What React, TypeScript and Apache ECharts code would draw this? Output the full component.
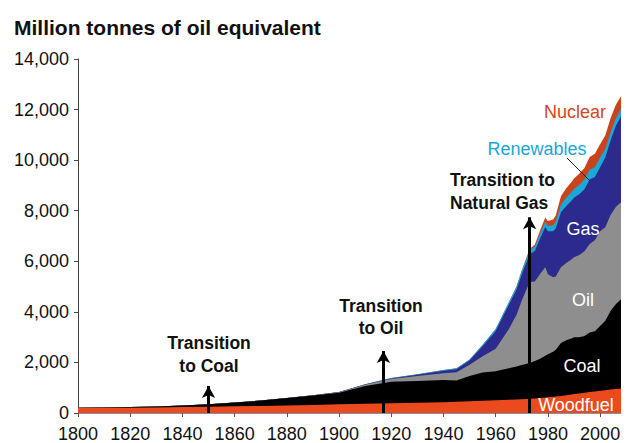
import React, { useEffect, useRef } from "react";
import * as echarts from "echarts";

const years = [1800, 1810, 1820, 1830, 1840, 1850, 1860, 1870, 1880, 1890, 1900, 1910, 1920, 1930, 1940, 1945, 1950, 1955, 1960, 1965, 1968, 1970, 1973, 1975, 1977, 1979, 1980, 1982, 1983, 1985, 1987, 1989, 1990, 1992, 1994, 1996, 1998, 2000, 2002, 2004, 2006, 2008];

const woodfuel = [200, 205, 210, 220, 235, 250, 265, 280, 300, 320, 350, 370, 390, 410, 430, 440, 460, 480, 500, 520, 535, 545, 560, 575, 590, 610, 620, 640, 650, 670, 700, 730, 750, 770, 800, 830, 850, 880, 900, 930, 950, 970];
const coal = [10, 15, 25, 40, 60, 100, 150, 210, 290, 370, 450, 700, 850, 860, 880, 850, 1000, 1120, 1150, 1250, 1300, 1350, 1420, 1480, 1560, 1650, 1700, 1780, 1850, 2100, 2180, 2220, 2250, 2230, 2250, 2350, 2380, 2560, 2750, 3100, 3350, 3530];
const oil = [0, 0, 0, 0, 0, 0, 0, 0, 5, 10, 20, 45, 100, 190, 260, 320, 450, 640, 890, 1540, 2050, 2550, 3200, 3150, 3350, 3500, 3170, 2950, 2900, 2990, 3050, 3120, 3160, 3250, 3350, 3500, 3600, 3750, 3700, 3800, 3850, 3830];
const gas = [0, 0, 0, 0, 0, 0, 0, 0, 0, 5, 10, 15, 25, 50, 100, 120, 170, 400, 700, 960, 1000, 1040, 1110, 1200, 1400, 1600, 1700, 1820, 1900, 2180, 2250, 2320, 2350, 2400, 2450, 2550, 2500, 2530, 2750, 2950, 3200, 3400];
const renewables = [0, 0, 0, 0, 0, 0, 0, 0, 0, 0, 5, 10, 15, 25, 30, 35, 40, 60, 80, 100, 120, 140, 150, 170, 190, 200, 210, 240, 260, 300, 330, 340, 350, 370, 380, 390, 400, 380, 350, 320, 300, 290];
const nuclear = [0, 0, 0, 0, 0, 0, 0, 0, 0, 0, 0, 0, 0, 0, 0, 0, 0, 0, 0, 5, 10, 20, 50, 90, 130, 170, 190, 220, 250, 330, 380, 400, 410, 440, 460, 500, 520, 530, 530, 560, 530, 510];

const xTickYears = [1800, 1820, 1840, 1860, 1880, 1900, 1920, 1940, 1960, 1980, 2000];

// arrows: [year, tip value]
const transitionArrows = [
  [1850, 1070],
  [1917, 2450],
  [1973, 7740],
];

const seriesNames = ["Woodfuel", "Coal", "Oil", "Gas", "Renewables", "Nuclear"];
const seriesValues = [woodfuel, coal, oil, gas, renewables, nuclear];
const seriesColors = ["#ea4a1c", "#000000", "#8e8e8e", "#2d2a8e", "#1aa8d8", "#c9431c"];

const FONT = '"Liberation Sans", Arial, Helvetica, sans-serif';

function txt(text: string, x: number, y: number, fill: string, size: number, weight: string, align: string = "center", lineHeight?: number) {
  return {
    type: "text",
    x,
    y,
    silent: true,
    z: 100,
    style: {
      text,
      fill,
      fontSize: size,
      fontWeight: weight,
      fontFamily: FONT,
      align,
      textAlign: align,
      verticalAlign: "middle",
      textVerticalAlign: "middle",
      lineHeight: lineHeight || size * 1.2,
    },
  };
}

export default function App() {
  const ref = useRef<HTMLDivElement>(null);
  useEffect(() => {
    if (!ref.current) return;
    const chart = echarts.init(ref.current, undefined, { renderer: "svg" });
    // cumulative stacking computed from the component arrays
    const cumulative: number[][] = [];
    seriesValues.forEach((vals, i) => {
      cumulative.push(vals.map((v, k) => v + (i > 0 ? cumulative[i - 1][k] : 0)));
    });
    const series: any[] = [];
    for (let i = seriesNames.length - 1; i >= 0; i--) {
      series.push({
        name: seriesNames[i],
        type: "line",
        symbol: "none",
        smooth: false,
        lineStyle: { width: 0 },
        areaStyle: { color: seriesColors[i], opacity: 1, origin: "start" },
        itemStyle: { color: seriesColors[i] },
        data: years.map((y, k) => [y, cumulative[i][k]]),
        z: 2,
      });
    }
    series.push({
      type: "scatter",
      data: [],
      silent: true,
      z: 10,
      markLine: {
        silent: true,
        symbol: ["none", "arrow"],
        symbolSize: [10, 12],
        label: { show: false },
        lineStyle: { color: "#000", width: 3, type: "solid" },
        emphasis: { disabled: true },
        data: transitionArrows.map(([yr, tip]) => [
          { coord: [yr, 0] },
          { coord: [yr, tip] },
        ]),
      },
    });
    const option: any = {
      animation: false,
      grid: { left: 78, right: 12, top: 59, bottom: 29, containLabel: false },
      xAxis: {
        type: "value",
        min: 1800,
        max: 2008,
        interval: 20,
        axisLine: { show: true, lineStyle: { color: "#7f95a3", width: 1 } },
        axisTick: { show: true, length: 4, lineStyle: { color: "#555" }, customValues: xTickYears },
        axisLabel: {
          customValues: xTickYears,
          color: "#111",
          fontSize: 18,
          fontFamily: FONT,
          margin: 12,
          formatter: (v: number) => String(v),
        },
        splitLine: { show: false },
      },
      yAxis: {
        type: "value",
        min: 0,
        max: 14000,
        interval: 2000,
        axisLine: { show: true, lineStyle: { color: "#444", width: 1 } },
        axisTick: { show: true, length: 4, lineStyle: { color: "#444" } },
        axisLabel: {
          color: "#111",
          fontSize: 18,
          fontFamily: FONT,
          margin: 9,
          formatter: (v: number) => v.toLocaleString("en-US"),
        },
        splitLine: { show: false },
      },
      series,
      graphic: [
        {
          type: "text",
          x: 14,
          y: 27,
          silent: true,
          style: {
            text: "Million tonnes of oil equivalent",
            fill: "#111",
            fontSize: 21,
            fontWeight: "bold",
            fontFamily: FONT,
            align: "left",
            textAlign: "left",
            verticalAlign: "middle",
            textVerticalAlign: "middle",
          },
        },
        txt("Transition\nto Coal", 209, 354, "#111", 17.5, "bold", "center", 23),
        txt("Transition\nto Oil", 381, 317, "#111", 17.5, "bold", "center", 22),
        txt("Transition to\nNatural Gas", 450, 191, "#111", 17.5, "bold", "left", 23),
        txt("Nuclear", 575, 112, "#d2461c", 18, "normal"),
        txt("Renewables", 537, 149, "#1ba6d6", 18, "normal"),
        txt("Gas", 583, 229, "#ffffff", 18, "normal"),
        txt("Oil", 583, 300, "#ffffff", 18, "normal"),
        txt("Coal", 582, 366, "#ffffff", 18, "normal"),
        txt("Woodfuel", 576, 405, "#ffffff", 18, "normal"),
        {
          type: "line",
          silent: true,
          z: 100,
          shape: { x1: 567, y1: 158, x2: 590, y2: 181 },
          style: { stroke: "#222", lineWidth: 1 },
        },
      ],
    };
    chart.setOption(option);
    return () => chart.dispose();
  }, []);
  return (
    <div
      ref={ref}
      style={{ position: "fixed", left: 0, top: 0, width: 633, height: 443, background: "#fff" }}
    />
  );
}
